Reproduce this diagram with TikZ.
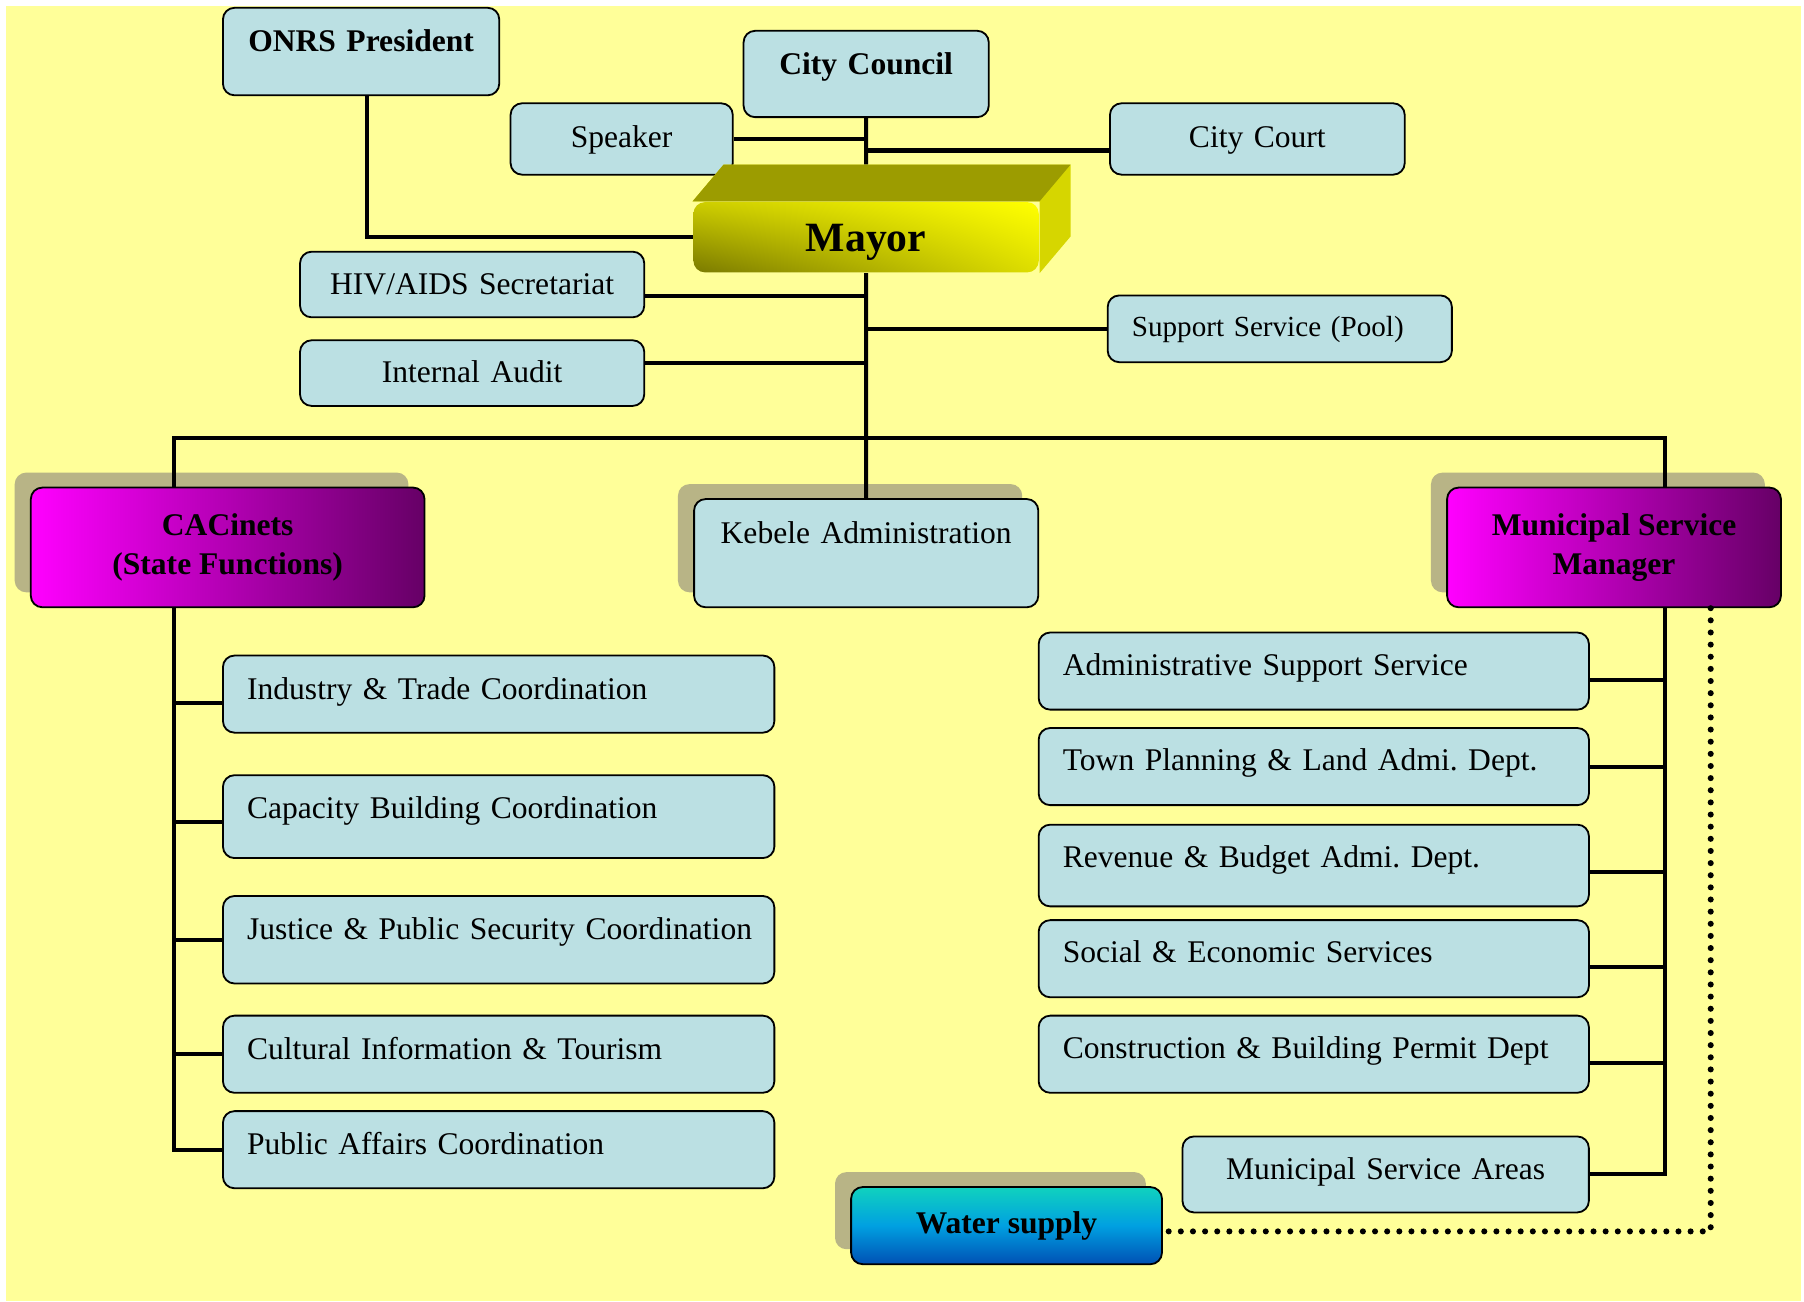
\documentclass[tikz,border=0pt]{standalone}
\usepackage{fontspec}
\setmainfont{Liberation Serif}
\usetikzlibrary{shadows,shadings}
\definecolor{bgyellow}{RGB}{255,255,153}
\definecolor{boxblue}{RGB}{187,224,227}
\definecolor{shadowgray}{RGB}{184,180,134}
\definecolor{magentahi}{RGB}{255,0,255}
\definecolor{magentalo}{RGB}{102,0,102}
\definecolor{mayorhi}{RGB}{255,255,0}
\definecolor{mayorul}{RGB}{205,205,0}
\definecolor{mayorlr}{RGB}{222,222,0}
\definecolor{mayorlo}{RGB}{122,122,0}
\definecolor{mayortop}{RGB}{156,156,0}
\definecolor{mayorside}{RGB}{214,214,0}
\definecolor{waterhi}{RGB}{16,210,190}
\definecolor{watermid}{RGB}{0,160,225}
\definecolor{waterlo}{RGB}{0,80,180}
\newcommand{\boxfont}{\fontsize{7.8}{9.7}\selectfont\frenchspacing}

\begin{document}
\begin{tikzpicture}[x=0.01cm,y=-0.01cm,
  box/.style={draw,fill=boxblue,rounded corners=0.1cm,line width=0.45pt,inner sep=0pt,anchor=north west,align=center,font=\boxfont},
  title box/.style={box,font=\boxfont\bfseries},
  left item/.style={box,align=left,inner xsep=0.21cm,text width=4.37cm,text height=0.38cm},
  right item/.style={box,align=left,inner xsep=0.21cm,text width=4.36cm,text height=0.37cm},
  shadowed/.style={drop shadow={shadow xshift=-0.14cm,shadow yshift=0.13cm,fill=shadowgray,opacity=1}},
  head box/.style={title box,shadowed,left color=magentahi,right color=magentalo,minimum width=#1,minimum height=1.04cm},
  mayor/.style={anchor=north west,inner sep=0pt,rounded corners=0.1cm,text width=3cm,align=center,text height=0.43cm,text depth=0.18cm,
    upper left=mayorul,upper right=mayorhi,lower left=mayorlo,lower right=mayorlr,font=\fontsize{10.3}{12}\selectfont\bfseries},
  link/.style={line width=1pt},
  dots/.style={line width=1.5pt,line cap=round,dash pattern=on 0pt off 3pt}]

  \fill[bgyellow] (5,5) rectangle (1565,1131);
  \useasboundingbox (0,0) rectangle (1568,1131);

  % top of the chart
  \node[title box,text width=2.40cm,text height=0.38cm,text depth=0.38cm] (0) at (193,6) {ONRS President};
  \node[title box,text width=2.13cm,text height=0.38cm,text depth=0.37cm] (1) at (645.5,26) {City Council};
  \node[box,text width=1.93cm,text height=0.38cm,text depth=0.24cm] (2) at (443,89) {Speaker};
  \node[box,text width=2.56cm,text height=0.38cm,text depth=0.24cm] (3) at (964,89) {City Court};
  \node[mayor] (4) at (602,175) {Mayor};
  \fill[mayorside] (4.north west) -- ++(27,-32) -- ([shift={(27,-32)}]4.north east) -- ([shift={(27,-32)}]4.south east)
    -- (4.south east) -- (4.north east) -- cycle;
  \fill[mayortop] (4.north west) -- ++(27,-32) -- ([shift={(27,-32)}]4.north east) -- (4.north east) -- cycle;
  \node[box,text width=2.99cm,text height=0.37cm,text depth=0.20cm] (5) at (260,218) {HIV/AIDS Secretariat};
  \node[box,text width=2.99cm,text height=0.37cm,text depth=0.20cm] (6) at (260,295) {Internal Audit};
  \node[box,align=left,inner xsep=0.21cm,text width=2.57cm,text height=0.36cm,text depth=0.22cm,font=\fontsize{7.2}{8.6}\selectfont] (7) at (962,256) {Support Service (Pool)};

  % second level
  \node[head box=3.42cm] (8) at (26,423) {CACinets\\(State Functions)};
  \node[box,shadowed,text width=2.99cm,text height=0.39cm,text depth=0.55cm] (9) at (602.5,433) {Kebele Administration};
  \node[head box=2.90cm] (10) at (1257,423) {Municipal Service\\Manager};

  % state functions
  \node[left item,text depth=0.29cm] (11) at (193,569) {Industry \& Trade Coordination};
  \node[left item,text depth=0.34cm] (12) at (193,673) {Capacity Building Coordination};
  \node[left item,text depth=0.38cm] (13) at (193,778) {\mbox{Justice \& Public Security Coordination}};
  \node[left item,text depth=0.29cm] (14) at (193,882) {Cultural Information \& Tourism};
  \node[left item,text depth=0.29cm] (15) at (193,965) {Public Affairs Coordination};

  % municipal services
  \node[right item,text depth=0.30cm] (16) at (902,549) {Administrative Support Service};
  \node[right item,text depth=0.30cm] (17) at (902,632) {Town Planning \& Land Admi. Dept.};
  \node[right item,text depth=0.34cm] (18) at (902,716) {Revenue \& Budget Admi. Dept.};
  \node[right item,text depth=0.30cm] (19) at (902,799) {Social \& Economic Services};
  \node[right item,text depth=0.30cm] (20) at (902,882) {Construction \& Building Permit Dept};
  \node[box,text width=3.53cm,text height=0.37cm,text depth=0.29cm] (21) at (1027,987) {Municipal Service Areas};
  \node[title box,shadowed,top color=waterhi,bottom color=waterlo,middle color=watermid,minimum width=2.70cm,minimum height=0.67cm] (22) at (739,1031) {Water supply};

  \coordinate (l) at (151,381);
  \coordinate (r) at (1447,381);

  \draw[link] ([xshift=0.05cm]0.south) |- (4.west);
  \draw[link] (1.south) -- ([yshift=0.32cm]4.north);
  \draw[link] (1.south) |- (2.east);
  \draw[link] (1.south) |- ([yshift=-0.1cm]3.west);
  \draw[link] (4.south) -- (9.north);
  \draw[link] (4.south) |- ([yshift=-0.1cm]5.east);
  \draw[link] (4.south) |- ([yshift=0.09cm]6.east);
  \draw[link] (4.south) |- (7.west);
  \draw[link] (l |- 8.north) -- (l) -- (r) -- (r |- 10.north);
  \foreach \n/\s in {11/-0.075cm,12/-0.05cm,13/0cm,14/0cm,15/0cm}
    \draw[link] (l |- 8.south) |- ([yshift=\s]\n.west);
  \foreach \n/\s in {16/-0.075cm,17/0cm,18/-0.055cm,19/-0.075cm,20/-0.075cm,21/0cm}
    \draw[link] (r |- 10.south) |- ([yshift=\s]\n.east);
  \draw[dots] ([xshift=0.84cm]10.south) |- ([yshift=-0.05cm]22.east);
\end{tikzpicture}
\end{document}
